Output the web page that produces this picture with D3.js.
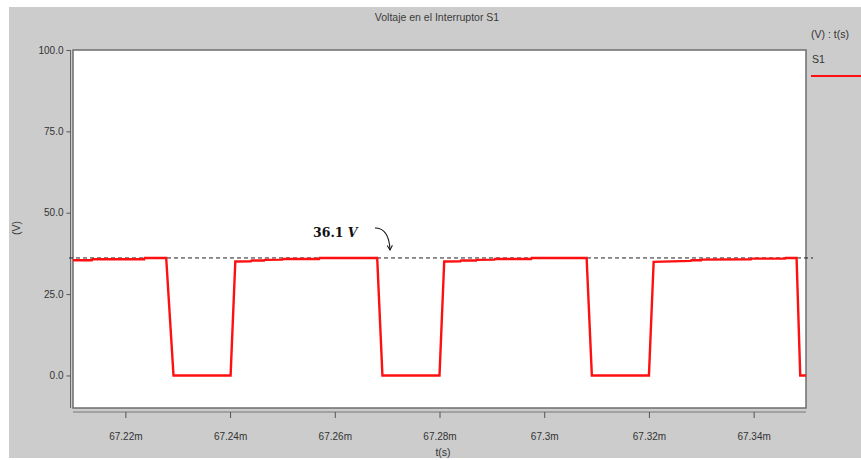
<!DOCTYPE html>
<html>
<head>
<meta charset="utf-8">
<script src="https://cdn.jsdelivr.net/npm/d3@7"></script>
<style>
  html, body { margin: 0; padding: 0; background: #ffffff; }
  svg { display: block; font-family: "Liberation Sans", Arial, sans-serif; }
</style>
</head>
<body>
<svg id="chart" width="861" height="460"></svg>
<script>
// Switch voltage S1 versus time (time in ms)
const chartTitle = "Voltaje en el Interruptor S1";
const timeMs = [
  67.2100, 67.2136, 67.2137, 67.2236, 67.2237, 67.2278, 67.2292, 67.2401,
  67.2410, 67.2440, 67.2441, 67.2465, 67.2466, 67.2500, 67.2501, 67.2570, 67.2571, 67.2681,
  67.2691, 67.2800,
  67.2809, 67.2840, 67.2841, 67.2870, 67.2871, 67.2905, 67.2906, 67.2975, 67.2976, 67.3081,
  67.3091, 67.3200,
  67.3209, 67.3280, 67.3281, 67.3300, 67.3301, 67.3395, 67.3396, 67.3460, 67.3461, 67.3482,
  67.3489, 67.3500
];
const voltage = [
  35.4, 35.4, 35.7, 35.7, 36.1, 36.1, 0.0, 0.0,
  35.0, 35.1, 35.3, 35.3, 35.5, 35.6, 35.8, 35.8, 36.1, 36.1,
  0.0, 0.0,
  35.0, 35.1, 35.3, 35.3, 35.5, 35.6, 35.8, 35.8, 36.1, 36.1,
  0.0, 0.0,
  34.9, 35.2, 35.4, 35.4, 35.6, 35.7, 35.9, 35.9, 36.1, 36.1,
  0.0, 0.0
];
const peakVoltage = 36.1;
const xTicks = [67.22, 67.24, 67.26, 67.28, 67.30, 67.32, 67.34];
const xTickLabels = ["67.22m", "67.24m", "67.26m", "67.28m", "67.3m", "67.32m", "67.34m"];
const yTicks = [0, 25, 50, 75, 100];
const seriesName = "S1";

const svg = d3.select("#chart");
const sans = "'Liberation Sans', Arial, sans-serif";

// grey panel
svg.append("rect").attr("x", 9).attr("y", 7).attr("width", 852).attr("height", 451)
  .attr("fill", "#cccccc");

const plot = { left: 73, right: 806, top: 50, bottom: 408 };
const x = d3.scaleLinear().domain([67.21, 67.35]).range([plot.left, plot.right]);
const y = d3.scaleLinear().domain([-10, 100]).range([plot.bottom, plot.top]);

// plot area
svg.append("rect")
  .attr("x", plot.left).attr("y", plot.top)
  .attr("width", plot.right - plot.left).attr("height", plot.bottom - plot.top)
  .attr("fill", "#ffffff").attr("stroke", "#6e6e6e").attr("stroke-width", 1.5);

// title
svg.append("text").attr("x", 437).attr("y", 21).attr("text-anchor", "middle")
  .style("font-family", sans).style("font-size", "10.5px").attr("fill", "#3a3a3a").text(chartTitle);

// y axis
const yAxis = d3.axisLeft(y).tickValues(yTicks).tickFormat(d3.format(".1f")).tickSize(4).tickPadding(3);
const gy = svg.append("g").attr("transform", `translate(${plot.left - 2.5},0)`).call(yAxis);
gy.select(".domain").attr("stroke", "#666").attr("d", `M0,${plot.top}V${plot.bottom}`);
gy.selectAll(".tick line").attr("stroke", "#555");
gy.selectAll(".tick text").style("font-size", "10px").style("font-family", sans).attr("fill", "#333");

// x axis
const xAxis = d3.axisBottom(x).tickValues(xTicks)
  .tickFormat((d, i) => xTickLabels[i]).tickSize(6).tickPadding(15);
const gx = svg.append("g").attr("transform", `translate(0,${plot.bottom + 4})`).call(xAxis);
gx.select(".domain").attr("stroke", "#777").attr("d", `M${plot.left},0H${plot.right}`);
gx.selectAll(".tick line").attr("stroke", "#555");
gx.selectAll(".tick text").style("font-size", "10px").style("font-family", sans).attr("fill", "#333");

// axis titles
svg.append("text").attr("x", 443).attr("y", 456).attr("text-anchor", "middle")
  .style("font-family", sans).style("font-size", "10.5px").attr("fill", "#333").text("t(s)");
svg.append("text").attr("transform", "translate(20,228) rotate(-90)")
  .attr("text-anchor", "middle").style("font-family", sans).style("font-size", "10.5px")
  .attr("fill", "#333").text("(V)");

// peak reference line
svg.append("line")
  .attr("x1", plot.left - 4).attr("x2", plot.right + 7)
  .attr("y1", y(peakVoltage)).attr("y2", y(peakVoltage))
  .attr("stroke", "#222").attr("stroke-width", 1).attr("stroke-dasharray", "4,3");

// waveform
const pts = timeMs.map((t, i) => [t, voltage[i]]);
const line = d3.line().x(d => x(d[0])).y(d => y(d[1]));
svg.append("path").datum(pts).attr("d", line)
  .attr("fill", "none").attr("stroke", "#ff1010").attr("stroke-width", 2.4)
  .attr("stroke-linejoin", "miter");

// annotation
const ann = svg.append("text").attr("x", 313).attr("y", 237)
  .style("font-family", "'DejaVu Serif', 'Liberation Serif', serif")
  .style("font-size", "12.5px").style("font-weight", "bold").attr("fill", "#111");
ann.append("tspan").text(d3.format(".1f")(peakVoltage) + " ");
ann.append("tspan").style("font-style", "italic").text("V");

svg.append("defs").append("marker").attr("id", "arrowhead")
  .attr("viewBox", "0 0 10 10").attr("refX", 8).attr("refY", 5)
  .attr("markerWidth", 6).attr("markerHeight", 6).attr("orient", "auto")
  .append("path").attr("d", "M1,1 L8,5 L1,9").attr("fill", "none")
  .attr("stroke", "#111").attr("stroke-width", 1.5);
svg.append("path").attr("d", "M375,228 Q389,228 390,250")
  .attr("fill", "none").attr("stroke", "#111").attr("stroke-width", 1.1)
  .attr("marker-end", "url(#arrowhead)");

// legend
svg.append("text").attr("x", 811).attr("y", 38).style("font-family", sans)
  .style("font-size", "10.5px").attr("fill", "#333").text("(V) : t(s)");
svg.append("text").attr("x", 812).attr("y", 63).style("font-family", sans)
  .style("font-size", "10.5px").attr("fill", "#333").text(seriesName);
svg.append("line").attr("x1", 811).attr("x2", 861).attr("y1", 76).attr("y2", 76)
  .attr("stroke", "#ff1010").attr("stroke-width", 2.2);
</script>
</body>
</html>
